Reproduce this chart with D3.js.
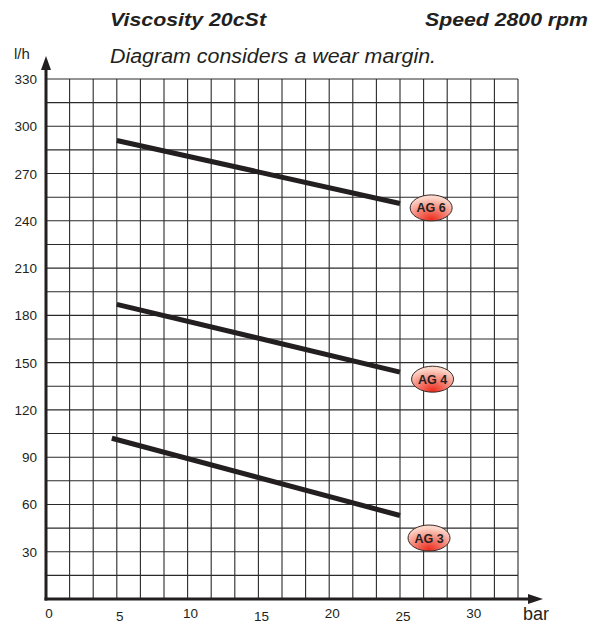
<!DOCTYPE html>
<html>
<head>
<meta charset="utf-8">
<script src="https://cdn.jsdelivr.net/npm/d3@7"></script>
<style>
  body { margin: 0; background: #fff; }
  text { font-family: "Liberation Sans", Arial, sans-serif; fill: #231f20; }
</style>
</head>
<body>
<svg width="605" height="625"></svg>
<script>
// pump curves (bar -> l/h)
var pumps = ['AG 3', 'AG 4', 'AG 6'];
var pressureStart = [4.65, 5, 5];
var pressureEnd = [25, 25, 25];
var flowStart = [102, 187, 291];
var flowEnd = [53, 144, 251];
// where each pump tag sits (bar, l/h)
var tagPressure = [27.05, 27.3, 27.2];
var tagFlow = [38.7, 139.5, 248.2];

var xTicks = [0, 5, 10, 15, 20, 25, 30];
var yTicks = [30, 60, 90, 120, 150, 180, 210, 240, 270, 300, 330];

var svg = d3.select('svg');

var x = d3.scaleLinear().domain([0, 100 / 3]).range([46, 518]);
var y = d3.scaleLinear().domain([0, 330]).range([599, 79]);

// gradient for the pump tags
var grad = svg.append('defs').append('radialGradient')
  .attr('id', 'tag')
  .attr('cx', '50%').attr('cy', '85%').attr('r', '75%')
  .attr('fx', '50%').attr('fy', '95%');
grad.append('stop').attr('offset', '0%').attr('stop-color', '#ec2b1c');
grad.append('stop').attr('offset', '100%').attr('stop-color', '#fcd8cb');

// grid
var grid = svg.append('g').attr('class', 'grid');
grid.selectAll('line.v')
  .data(d3.range(1, 21).map(function(i) { return i * 5 / 3; }))
  .enter().append('line')
  .attr('class', 'v')
  .attr('x1', function(d) { return x(d); })
  .attr('x2', function(d) { return x(d); })
  .attr('y1', y(0)).attr('y2', y(330))
  .style('stroke', '#2a2a2a').style('stroke-width', 1.1);
grid.selectAll('line.h')
  .data(d3.range(1, 23).map(function(i) { return i * 15; }))
  .enter().append('line')
  .attr('class', 'h')
  .attr('x1', x(0)).attr('x2', x(100 / 3))
  .attr('y1', function(d) { return y(d); })
  .attr('y2', function(d) { return y(d); })
  .style('stroke', '#2a2a2a').style('stroke-width', 1.1);

// axes with arrows
svg.append('line')
  .attr('x1', x(0)).attr('x2', x(0))
  .attr('y1', y(0) + 1.5).attr('y2', 66)
  .style('stroke', '#231f20').style('stroke-width', 3);
svg.append('path')
  .attr('d', 'M' + (x(0) - 5) + ',70 L' + x(0) + ',56 L' + (x(0) + 5) + ',70 Z')
  .style('fill', '#231f20');
svg.append('line')
  .attr('x1', x(0) - 1.5).attr('x2', 530)
  .attr('y1', y(0)).attr('y2', y(0))
  .style('stroke', '#231f20').style('stroke-width', 3);
svg.append('path')
  .attr('d', 'M528,' + (y(0) - 5) + ' L543,' + y(0) + ' L528,' + (y(0) + 5) + ' Z')
  .style('fill', '#231f20');

// tick labels
svg.selectAll('text.xt')
  .data(xTicks)
  .enter().append('text')
  .attr('class', 'xt')
  .attr('x', function(d) { return x(d) + 3; })
  .attr('y', function(d, i) { return i % 2 ? 621 : 618; })
  .style('text-anchor', 'middle')
  .style('font-size', '13.5px')
  .text(function(d) { return d; });
svg.selectAll('text.yt')
  .data(yTicks)
  .enter().append('text')
  .attr('class', 'yt')
  .attr('x', 37)
  .attr('y', function(d) { return y(d) + 5; })
  .style('text-anchor', 'end')
  .style('font-size', '13.5px')
  .text(function(d) { return d; });

svg.append('text').attr('x', 14).attr('y', 59)
  .style('font-size', '15px').text('l/h');
svg.append('text').attr('x', 523).attr('y', 620)
  .style('font-size', '18px').text('bar');

// titles
svg.append('text').attr('x', 110).attr('y', 26)
  .attr('textLength', 156).attr('lengthAdjust', 'spacingAndGlyphs')
  .style('font-size', '18.5px').style('font-weight', 'bold').style('font-style', 'italic')
  .text('Viscosity 20cSt');
svg.append('text').attr('x', 425).attr('y', 26)
  .attr('textLength', 163).attr('lengthAdjust', 'spacingAndGlyphs')
  .style('font-size', '18.5px').style('font-weight', 'bold').style('font-style', 'italic')
  .text('Speed 2800 rpm');
svg.append('text').attr('x', 110).attr('y', 63)
  .attr('textLength', 326).attr('lengthAdjust', 'spacingAndGlyphs')
  .style('font-size', '20.5px').style('font-style', 'italic')
  .text('Diagram considers a wear margin.');

// pump lines
svg.selectAll('line.pump')
  .data(pumps)
  .enter().append('line')
  .attr('class', 'pump')
  .attr('x1', function(d, i) { return x(pressureStart[i]); })
  .attr('y1', function(d, i) { return y(flowStart[i]); })
  .attr('x2', function(d, i) { return x(pressureEnd[i]); })
  .attr('y2', function(d, i) { return y(flowEnd[i]); })
  .style('stroke', '#231f20').style('stroke-width', 5);

// pump tags
var tags = svg.selectAll('g.tag')
  .data(pumps)
  .enter().append('g')
  .attr('class', 'tag')
  .attr('transform', function(d, i) {
    return 'translate(' + x(tagPressure[i]) + ',' + y(tagFlow[i]) + ')';
  });
tags.append('ellipse')
  .attr('rx', 21).attr('ry', 13)
  .style('fill', 'url(#tag)')
  .style('stroke', '#3a2a28').style('stroke-width', 1);
tags.append('text')
  .attr('y', 4.5)
  .style('text-anchor', 'middle')
  .style('font-size', '12.5px').style('font-weight', 'bold')
  .text(function(d) { return d; });
</script>
</body>
</html>
